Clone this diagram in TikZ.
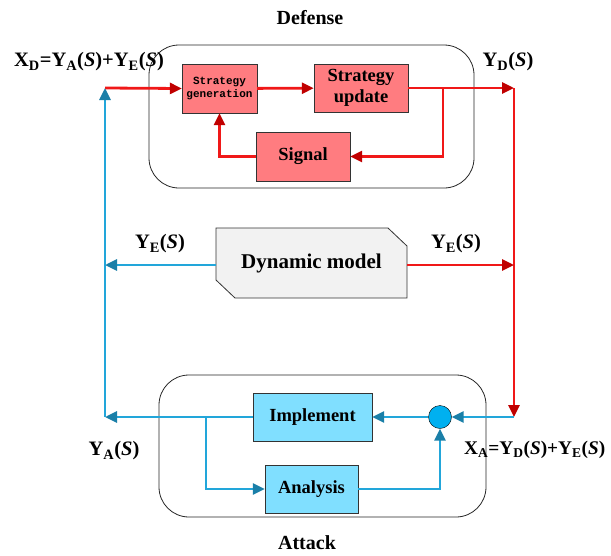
\documentclass[tikz,border=0pt]{standalone}
\usepackage{fontspec}
\setmainfont{Liberation Serif}
\newfontfamily\monofont{Liberation Mono}
\usepackage{xcolor}
\usetikzlibrary{arrows.meta}
\usetikzlibrary{positioning}

\definecolor{defred}{HTML}{F01818}
\definecolor{defredtip}{HTML}{C00000}
\definecolor{defbox}{HTML}{FF7C80}
\definecolor{attblue}{HTML}{22A6DA}
\definecolor{attbluetip}{HTML}{1A7FA8}
\definecolor{attbox}{HTML}{80DFFF}
\definecolor{attsum}{HTML}{00B0F0}
\definecolor{dynfill}{HTML}{F2F2F2}

\newcommand{\lbl}[2]{\textbf{#1}\textsubscript{\textbf{#2}}}

\begin{document}
\begin{tikzpicture}[x=1pt,y=-1pt,
	  font=\fontsize{18.5}{21}\selectfont\bfseries,
	  redline/.style={draw=defred,line width=2.8pt,-{Triangle[length=12pt,width=11pt,color=defredtip]}},
	  blueline/.style={draw=attblue,line width=2.8pt,-{Triangle[length=12pt,width=11pt,color=attbluetip]}},
	  defblock/.style={draw=black!80,fill=defbox,inner sep=0pt,align=center},
	  attblock/.style={draw=black!80,fill=attbox,inner sep=0pt,align=center},
	  group/.style={draw=black!85,line width=0.8pt,rounded corners=30pt,inner sep=0pt},
	  sig/.style={font=\fontsize{20.5}{23}\selectfont\bfseries},
	  title/.style={font=\fontsize{20}{22}\selectfont\bfseries}]
		  \useasboundingbox (0,0) rectangle (611,555);
		  % groups
		  \node[group,minimum width=325pt,minimum height=143pt] (defense) at (311.5,116.5) {};
		  \node[group,minimum width=327pt,minimum height=142pt] (attack) at (322.5,446) {};
		  \node[title] (deftitle) at (310,18) {Defense};
		  \node[title] (atttitle) at (307,543) {Attack};
		  % defense blocks
		  \node[defblock,minimum width=75pt,minimum height=49pt,font=\monofont\fontsize{11}{13}\selectfont\bfseries] (gen) at (219.5,88.5) {Strategy\\generation};
		  \node[defblock,minimum width=94pt,minimum height=48pt] (upd) at (361,88) {Strategy\\update};
		  \node[defblock,minimum width=94pt,minimum height=49pt] (sig) at (303,156.5) {Signal};
		  % dynamic model
		  \fill[dynfill,draw=black!80,line width=0.8pt] (216,228) -- (388,228) -- (407,246) -- (407,298) -- (235,298) -- (216,280) -- cycle;
		  \node[minimum width=191pt,minimum height=70pt,inner sep=0pt,font=\fontsize{21}{23}\selectfont\bfseries] (dyn) at (311.5,263) {Dynamic model};
		  % attack blocks
		  \node[attblock,minimum width=119pt,minimum height=48pt] (imp) at (312.5,417) {Implement};
		  \node[attblock,minimum width=93pt,minimum height=48pt] (ana) at (311.5,489) {Analysis};
		  \node[circle,draw=black,fill=attsum,minimum size=23pt,inner sep=0pt] (sum) at (440,417) {};
		  % junctions
		  \coordinate (xd) at (105,88);
		  \coordinate (yd) at (514,88);
		  \coordinate (xa) at (514,417);
		  \coordinate (ya) at (105,417);
		  \coordinate (ye1) at (105,265);
		  \coordinate (ye2) at (514,265);
		  \coordinate (b1) at (443,88);
		  \coordinate (b2) at (206,417);
		  % defense loop
		  \draw[redline] (xd) -- (gen.west);
		  \draw[redline] (gen) -- (upd);
		  \draw[redline] (upd.east) -- (yd);
		  \draw[redline] (b1) |- (sig.east);
		  \draw[redline] (sig.west) -| (gen.south);
		  \draw[redline] (yd) -- (xa);
		  % dynamic model outputs
		  \draw[redline] (dyn.east |- ye2) -- (ye2);
		  \draw[blueline] (dyn.west |- ye1) -- (ye1);
		  % attack loop
		  \draw[blueline] (xa) -- (sum.east);
		  \draw[blueline] (sum.west) -- (imp.east);
		  \draw[blueline] (imp.west) -- (ya);
		  \draw[blueline] (ya) -- (xd);
		  \draw[blueline] (b2) |- (ana.west);
		  \draw[blueline] (ana.east) -| (sum.south);
		  % labels
		  \node[sig] (xdlbl) at (89,62) {\lbl{X}{D}=\lbl{Y}{A}(\textit{S})+\lbl{Y}{E}(\textit{S})};
		  \node[sig] (ydlbl) at (508,62) {\lbl{Y}{D}(\textit{S})};
		  \node[sig] (yelbl1) at (160,244) {\lbl{Y}{E}(\textit{S})};
		  \node[sig] (yelbl2) at (456,244) {\lbl{Y}{E}(\textit{S})};
		  \node[sig] (yalbl) at (114,451) {\lbl{Y}{A}(\textit{S})};
		  \node[sig,font=\fontsize{19.3}{22}\selectfont\bfseries,anchor=west,inner sep=0pt] (xalbl) at (464,450) {\lbl{X}{A}=\lbl{Y}{D}(\textit{S})+\lbl{Y}{E}(\textit{S})};
		 \end{tikzpicture}
\end{document}
